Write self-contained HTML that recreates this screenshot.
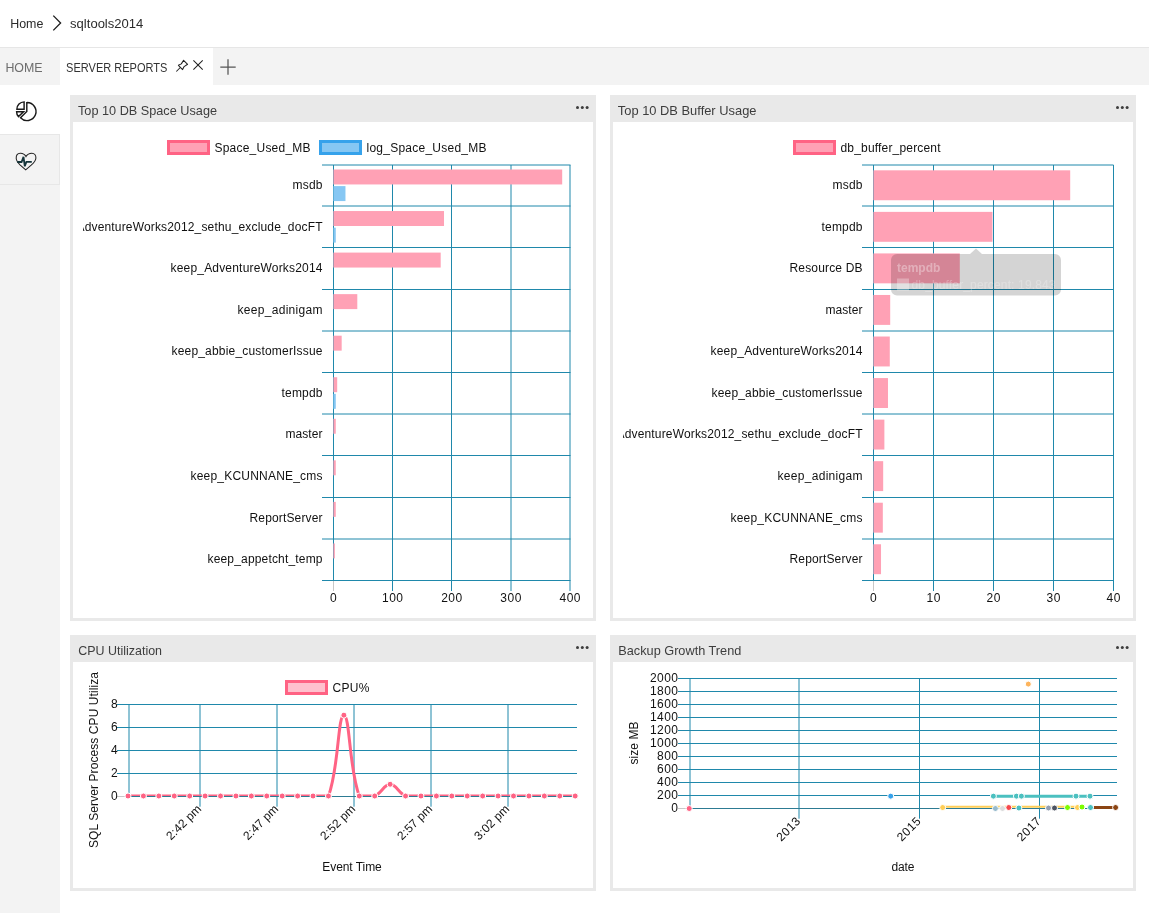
<!DOCTYPE html>
<html><head><meta charset="utf-8"><style>
html,body{margin:0;padding:0;}
body{width:1149px;height:913px;overflow:hidden;position:relative;background:#fff;font-family:"Liberation Sans", sans-serif;color:#333;}
.abs{position:absolute;}
#tabs{left:0;top:47px;width:1149px;height:38px;background:#f3f3f3;border-top:1px solid #e6e6e6;box-sizing:border-box;}
#side{left:0;top:85px;width:60px;height:828px;background:#f3f3f3;}
.wid{position:absolute;background:#e9e9e9;}
.wid .body{position:absolute;left:3px;right:3px;top:27px;bottom:3px;background:#fff;}
svg text{font-family:"Liberation Sans", sans-serif;}
svg{will-change:transform;}
</style></head><body>
<svg class="abs" style="left:0;top:0" width="300" height="47">
  <text x="10.2" y="28.3" font-size="13.4" fill="#2b2b2b" textLength="33.2" lengthAdjust="spacingAndGlyphs">Home</text>
  <path d="M53.3,15.6 L60.6,23 L53.3,30.4" fill="none" stroke="#1e1e1e" stroke-width="1.3"/>
  <text x="70.1" y="28.3" font-size="13.4" fill="#2b2b2b" textLength="73.2" lengthAdjust="spacingAndGlyphs">sqltools2014</text>
</svg>
<div id="tabs" class="abs"></div>
<div class="abs" style="left:60px;top:47px;width:153px;height:38px;background:#fff;border-top:1px solid #e6e6e6;box-sizing:border-box"></div>
<svg class="abs" style="left:0;top:47px" width="260" height="38">
  <text x="5.4" y="25.2" font-size="12.4" fill="#6d6d6d" textLength="37.2" lengthAdjust="spacingAndGlyphs">HOME</text>
  <text x="66.1" y="25.2" font-size="12.2" fill="#333" textLength="101.3" lengthAdjust="spacingAndGlyphs">SERVER REPORTS</text>
  <g fill="none" stroke="#222" stroke-width="1.05" stroke-linejoin="round">
   <path d="M178.4,18.3 L181.3,16.9 L183.6,13.3 L187.6,17.3 L184.1,19.6 L182.6,22.6 Z"/>
   <path d="M176.3,24.5 L180.3,20.5"/>
   <path d="M193.4,13.4 L202.7,22.7 M202.7,13.4 L193.4,22.7"/>
  </g>
  <path d="M228,12.3 V27.7 M220.3,20 H235.7" stroke="#555" stroke-width="1.25" fill="none"/>
</svg>
<div id="side" class="abs">
  <div class="abs" style="left:0;top:0;width:60px;height:49px;background:#fff"></div>
  <div class="abs" style="left:0;top:49px;width:60px;height:51px;border:1px solid #e7e7e7;border-left:none;box-sizing:border-box"></div>
</div>
<svg class="abs" style="left:0;top:0" width="60" height="200">
  <g fill="none" stroke="#1a1a1a" stroke-width="1.45" stroke-linejoin="miter">
    <path d="M26.8,102.6 V111.5 L20.5,117.8 A9,9 0 1 0 26.8,102.6 Z"/>
    <path d="M24.1,101.9 V109.3 H16.9 A7.3,7.3 0 0 1 24.1,101.9 Z"/>
    <path d="M16.6,111.7 H23.6 L18.4,116.6 A7.5,7.5 0 0 1 16.6,111.7 Z"/>
  </g>
  <path d="M26,156.6 C24.6,154 22.3,153.1 20.2,153.2 C17.6,153.3 16.1,155.4 16.2,158.2 C16.3,160.8 18,162.8 20,164.8 L25.7,169.8 L31.2,165.2 C33.6,163.1 35.8,160.9 35.9,158 C36,155.1 34.4,153.2 31.9,153.2 C29.8,153.2 27.4,154 26,156.6 Z" fill="none" stroke="#222" stroke-width="1.05"/>
  <path d="M17.2,162 H21.6 L23.5,156.8 L24.8,166.3 L26.4,161.9 H31.8" fill="none" stroke="#15343a" stroke-width="1.8" stroke-linejoin="miter"/>
</svg>
<div class="wid" style="left:70px;top:95px;width:526px;height:526px"><div class="body"></div></div>
<div class="wid" style="left:610px;top:95px;width:526px;height:526px"><div class="body"></div></div>
<div class="wid" style="left:70px;top:635px;width:526px;height:256px"><div class="body"></div></div>
<div class="wid" style="left:610px;top:635px;width:526px;height:256px"><div class="body"></div></div>
<svg class="abs" style="left:0;top:0" width="1149" height="913">
 <g fill="#3d3d3d">
  <text x="78" y="114.8" font-size="12.6" textLength="139" lengthAdjust="spacingAndGlyphs">Top 10 DB Space Usage</text>
  <text x="617.8" y="114.8" font-size="12.6" textLength="138.7" lengthAdjust="spacingAndGlyphs">Top 10 DB Buffer Usage</text>
  <text x="78.3" y="654.8" font-size="12.6" textLength="83.7" lengthAdjust="spacingAndGlyphs">CPU Utilization</text>
  <text x="618.3" y="654.8" font-size="12.6" textLength="123" lengthAdjust="spacingAndGlyphs">Backup Growth Trend</text>
  <circle cx="577.5" cy="107.5" r="1.5"/><circle cx="582.3" cy="107.5" r="1.5"/><circle cx="587.1" cy="107.5" r="1.5"/>
  <circle cx="1117.5" cy="107.5" r="1.5"/><circle cx="1122.3" cy="107.5" r="1.5"/><circle cx="1127.1" cy="107.5" r="1.5"/>
  <circle cx="577.5" cy="647.5" r="1.5"/><circle cx="582.3" cy="647.5" r="1.5"/><circle cx="587.1" cy="647.5" r="1.5"/>
  <circle cx="1117.5" cy="647.5" r="1.5"/><circle cx="1122.3" cy="647.5" r="1.5"/><circle cx="1127.1" cy="647.5" r="1.5"/>
 </g>
<clipPath id="c1"><rect x="83" y="120" width="600" height="500"/></clipPath>
<g clip-path="url(#c1)">
<line x1="322" y1="165.0" x2="570.5" y2="165.0" stroke="#1f88ab" stroke-width="1"/>
<line x1="322" y1="206.0" x2="570.5" y2="206.0" stroke="#1f88ab" stroke-width="1"/>
<line x1="322" y1="247.5" x2="570.5" y2="247.5" stroke="#1f88ab" stroke-width="1"/>
<line x1="322" y1="289.5" x2="570.5" y2="289.5" stroke="#1f88ab" stroke-width="1"/>
<line x1="322" y1="331.0" x2="570.5" y2="331.0" stroke="#1f88ab" stroke-width="1"/>
<line x1="322" y1="372.5" x2="570.5" y2="372.5" stroke="#1f88ab" stroke-width="1"/>
<line x1="322" y1="414.0" x2="570.5" y2="414.0" stroke="#1f88ab" stroke-width="1"/>
<line x1="322" y1="455.5" x2="570.5" y2="455.5" stroke="#1f88ab" stroke-width="1"/>
<line x1="322" y1="497.5" x2="570.5" y2="497.5" stroke="#1f88ab" stroke-width="1"/>
<line x1="322" y1="539.0" x2="570.5" y2="539.0" stroke="#1f88ab" stroke-width="1"/>
<line x1="322" y1="580.5" x2="570.5" y2="580.5" stroke="#1f88ab" stroke-width="1"/>
<line x1="333.5" y1="165" x2="333.5" y2="580.5" stroke="#1f88ab" stroke-width="1"/>
<line x1="333.5" y1="581" x2="333.5" y2="591" stroke="#c8c8c8" stroke-width="1"/>
<text x="333.40" y="602.00" font-size="12" fill="#111" text-anchor="middle" textLength="7" lengthAdjust="spacing" >0</text>
<line x1="392.5" y1="165" x2="392.5" y2="591" stroke="#1f88ab" stroke-width="1"/>
<text x="392.55" y="602.00" font-size="12" fill="#111" text-anchor="middle" textLength="21" lengthAdjust="spacing" >100</text>
<line x1="451.5" y1="165" x2="451.5" y2="591" stroke="#1f88ab" stroke-width="1"/>
<text x="451.70" y="602.00" font-size="12" fill="#111" text-anchor="middle" textLength="21" lengthAdjust="spacing" >200</text>
<line x1="511.0" y1="165" x2="511.0" y2="591" stroke="#1f88ab" stroke-width="1"/>
<text x="510.85" y="602.00" font-size="12" fill="#111" text-anchor="middle" textLength="21" lengthAdjust="spacing" >300</text>
<line x1="570.0" y1="165" x2="570.0" y2="591" stroke="#1f88ab" stroke-width="1"/>
<text x="570.00" y="602.00" font-size="12" fill="#111" text-anchor="middle" textLength="21" lengthAdjust="spacing" >400</text>
<rect x="333.40" y="169.49" width="228.79" height="14.96" fill="#ffa1b5"/>
<rect x="333.40" y="186.11" width="12.07" height="14.96" fill="#86c7f3"/>
<text x="322.50" y="189.18" font-size="12" fill="#111" text-anchor="end" textLength="30" lengthAdjust="spacing" >msdb</text>
<rect x="333.40" y="211.04" width="110.61" height="14.96" fill="#ffa1b5"/>
<rect x="333.40" y="227.66" width="2.37" height="14.96" fill="#86c7f3"/>
<text x="322.50" y="230.72" font-size="12" fill="#111" text-anchor="end" textLength="246" lengthAdjust="spacing" >AdventureWorks2012_sethu_exclude_docFT</text>
<rect x="333.40" y="252.59" width="107.30" height="14.96" fill="#ffa1b5"/>
<text x="322.50" y="272.27" font-size="12" fill="#111" text-anchor="end" textLength="152" lengthAdjust="spacing" >keep_AdventureWorks2014</text>
<rect x="333.40" y="294.14" width="23.90" height="14.96" fill="#ffa1b5"/>
<text x="322.50" y="313.82" font-size="12" fill="#111" text-anchor="end" textLength="85" lengthAdjust="spacing" >keep_adinigam</text>
<rect x="333.40" y="335.69" width="8.28" height="14.96" fill="#ffa1b5"/>
<text x="322.50" y="355.38" font-size="12" fill="#111" text-anchor="end" textLength="151" lengthAdjust="spacing" >keep_abbie_customerIssue</text>
<rect x="333.40" y="377.24" width="3.79" height="14.96" fill="#ffa1b5"/>
<rect x="333.40" y="393.86" width="2.37" height="14.96" fill="#86c7f3"/>
<text x="322.50" y="396.92" font-size="12" fill="#111" text-anchor="end" textLength="41" lengthAdjust="spacing" >tempdb</text>
<rect x="333.40" y="418.79" width="2.37" height="14.96" fill="#ffa1b5"/>
<text x="322.50" y="438.47" font-size="12" fill="#111" text-anchor="end" textLength="37" lengthAdjust="spacing" >master</text>
<rect x="333.40" y="460.34" width="2.37" height="14.96" fill="#ffa1b5"/>
<text x="322.50" y="480.02" font-size="12" fill="#111" text-anchor="end" textLength="132" lengthAdjust="spacing" >keep_KCUNNANE_cms</text>
<rect x="333.40" y="501.89" width="2.37" height="14.96" fill="#ffa1b5"/>
<text x="322.50" y="521.57" font-size="12" fill="#111" text-anchor="end" textLength="73" lengthAdjust="spacing" >ReportServer</text>
<rect x="333.40" y="543.44" width="1.48" height="14.96" fill="#ffa1b5"/>
<text x="322.50" y="563.12" font-size="12" fill="#111" text-anchor="end" textLength="115" lengthAdjust="spacing" >keep_appetcht_temp</text>
</g>
<rect x="168.50" y="141.50" width="40.00" height="12.00" fill="#ffa1b5" stroke="rgb(255,99,132)" stroke-width="3"/>
<text x="214.50" y="151.50" font-size="12" fill="#111" text-anchor="start" textLength="96" lengthAdjust="spacing" >Space_Used_MB</text>
<rect x="320.50" y="141.50" width="40.00" height="12.00" fill="#86c7f3" stroke="rgb(54,162,235)" stroke-width="3"/>
<text x="366.50" y="151.50" font-size="12" fill="#111" text-anchor="start" textLength="120" lengthAdjust="spacing" >log_Space_Used_MB</text>
<clipPath id="c2"><rect x="623" y="120" width="600" height="500"/></clipPath>
<g clip-path="url(#c2)">
<line x1="862" y1="165.0" x2="1113.5" y2="165.0" stroke="#1f88ab" stroke-width="1"/>
<line x1="862" y1="206.0" x2="1113.5" y2="206.0" stroke="#1f88ab" stroke-width="1"/>
<line x1="862" y1="247.5" x2="1113.5" y2="247.5" stroke="#1f88ab" stroke-width="1"/>
<line x1="862" y1="289.5" x2="1113.5" y2="289.5" stroke="#1f88ab" stroke-width="1"/>
<line x1="862" y1="331.0" x2="1113.5" y2="331.0" stroke="#1f88ab" stroke-width="1"/>
<line x1="862" y1="372.5" x2="1113.5" y2="372.5" stroke="#1f88ab" stroke-width="1"/>
<line x1="862" y1="414.0" x2="1113.5" y2="414.0" stroke="#1f88ab" stroke-width="1"/>
<line x1="862" y1="455.5" x2="1113.5" y2="455.5" stroke="#1f88ab" stroke-width="1"/>
<line x1="862" y1="497.5" x2="1113.5" y2="497.5" stroke="#1f88ab" stroke-width="1"/>
<line x1="862" y1="539.0" x2="1113.5" y2="539.0" stroke="#1f88ab" stroke-width="1"/>
<line x1="862" y1="580.5" x2="1113.5" y2="580.5" stroke="#1f88ab" stroke-width="1"/>
<line x1="873.5" y1="165" x2="873.5" y2="580.5" stroke="#1f88ab" stroke-width="1"/>
<line x1="873.5" y1="581" x2="873.5" y2="591" stroke="#c8c8c8" stroke-width="1"/>
<text x="873.40" y="602.00" font-size="12" fill="#111" text-anchor="middle" textLength="7" lengthAdjust="spacing" >0</text>
<line x1="933.5" y1="165" x2="933.5" y2="591" stroke="#1f88ab" stroke-width="1"/>
<text x="933.40" y="602.00" font-size="12" fill="#111" text-anchor="middle" textLength="14" lengthAdjust="spacing" >10</text>
<line x1="993.5" y1="165" x2="993.5" y2="591" stroke="#1f88ab" stroke-width="1"/>
<text x="993.40" y="602.00" font-size="12" fill="#111" text-anchor="middle" textLength="14" lengthAdjust="spacing" >20</text>
<line x1="1053.5" y1="165" x2="1053.5" y2="591" stroke="#1f88ab" stroke-width="1"/>
<text x="1053.40" y="602.00" font-size="12" fill="#111" text-anchor="middle" textLength="14" lengthAdjust="spacing" >30</text>
<line x1="1113.5" y1="165" x2="1113.5" y2="591" stroke="#1f88ab" stroke-width="1"/>
<text x="1113.40" y="602.00" font-size="12" fill="#111" text-anchor="middle" textLength="14" lengthAdjust="spacing" >40</text>
<rect x="873.40" y="170.32" width="196.80" height="29.92" fill="#ffa1b5"/>
<text x="862.50" y="189.18" font-size="12" fill="#111" text-anchor="end" textLength="30" lengthAdjust="spacing" >msdb</text>
<rect x="873.40" y="211.87" width="119.06" height="29.92" fill="#ffa1b5"/>
<text x="862.50" y="230.72" font-size="12" fill="#111" text-anchor="end" textLength="41" lengthAdjust="spacing" >tempdb</text>
<rect x="873.40" y="253.42" width="86.40" height="29.92" fill="#ffa1b5"/>
<text x="862.50" y="272.27" font-size="12" fill="#111" text-anchor="end" textLength="73" lengthAdjust="spacing" >Resource DB</text>
<rect x="873.40" y="294.97" width="16.80" height="29.92" fill="#ffa1b5"/>
<text x="862.50" y="313.82" font-size="12" fill="#111" text-anchor="end" textLength="37" lengthAdjust="spacing" >master</text>
<rect x="873.40" y="336.52" width="16.38" height="29.92" fill="#ffa1b5"/>
<text x="862.50" y="355.38" font-size="12" fill="#111" text-anchor="end" textLength="152" lengthAdjust="spacing" >keep_AdventureWorks2014</text>
<rect x="873.40" y="378.07" width="14.58" height="29.92" fill="#ffa1b5"/>
<text x="862.50" y="396.92" font-size="12" fill="#111" text-anchor="end" textLength="151" lengthAdjust="spacing" >keep_abbie_customerIssue</text>
<rect x="873.40" y="419.62" width="10.98" height="29.92" fill="#ffa1b5"/>
<text x="862.50" y="438.47" font-size="12" fill="#111" text-anchor="end" textLength="246" lengthAdjust="spacing" >AdventureWorks2012_sethu_exclude_docFT</text>
<rect x="873.40" y="461.17" width="9.78" height="29.92" fill="#ffa1b5"/>
<text x="862.50" y="480.02" font-size="12" fill="#111" text-anchor="end" textLength="85" lengthAdjust="spacing" >keep_adinigam</text>
<rect x="873.40" y="502.72" width="9.42" height="29.92" fill="#ffa1b5"/>
<text x="862.50" y="521.57" font-size="12" fill="#111" text-anchor="end" textLength="132" lengthAdjust="spacing" >keep_KCUNNANE_cms</text>
<rect x="873.40" y="544.27" width="7.62" height="29.92" fill="#ffa1b5"/>
<text x="862.50" y="563.12" font-size="12" fill="#111" text-anchor="end" textLength="73" lengthAdjust="spacing" >ReportServer</text>
</g>
<rect x="794.50" y="141.50" width="40.00" height="12.00" fill="#ffa1b5" stroke="rgb(255,99,132)" stroke-width="3"/>
<text x="840.50" y="151.50" font-size="12" fill="#111" text-anchor="start" textLength="100" lengthAdjust="spacing" >db_buffer_percent</text>
<g>
<path d="M897,254 H970 L976,248.5 L982,254 H1055 a6,6 0 0 1 6,6 V289.5 a6,6 0 0 1 -6,6 H897 a6,6 0 0 1 -6,-6 V260 a6,6 0 0 1 6,-6 Z" fill="rgba(0,0,0,0.17)"/>
<text x="897.00" y="271.50" font-size="12" fill="rgba(255,255,255,0.35)" text-anchor="start" font-weight="bold" >tempdb</text>
<rect x="897.00" y="278.50" width="12.00" height="12.00" fill="rgba(255,255,255,0.3)"/>
<text x="911.50" y="289.00" font-size="12" fill="rgba(255,255,255,0.25)" text-anchor="start" textLength="144" lengthAdjust="spacing" >db_buffer_percent: 19.843</text>
</g>
<line x1="117" y1="704.5" x2="577" y2="704.5" stroke="#1f88ab" stroke-width="1"/>
<text x="117.60" y="708.20" font-size="12" fill="#111" text-anchor="end" textLength="7" lengthAdjust="spacing" >8</text>
<line x1="117" y1="727.5" x2="577" y2="727.5" stroke="#1f88ab" stroke-width="1"/>
<text x="117.60" y="731.20" font-size="12" fill="#111" text-anchor="end" textLength="7" lengthAdjust="spacing" >6</text>
<line x1="117" y1="750.5" x2="577" y2="750.5" stroke="#1f88ab" stroke-width="1"/>
<text x="117.60" y="754.20" font-size="12" fill="#111" text-anchor="end" textLength="7" lengthAdjust="spacing" >4</text>
<line x1="117" y1="773.5" x2="577" y2="773.5" stroke="#1f88ab" stroke-width="1"/>
<text x="117.60" y="777.20" font-size="12" fill="#111" text-anchor="end" textLength="7" lengthAdjust="spacing" >2</text>
<line x1="117" y1="796.5" x2="128" y2="796.5" stroke="#c8c8c8" stroke-width="1"/>
<text x="117.60" y="800.20" font-size="12" fill="#111" text-anchor="end" textLength="7" lengthAdjust="spacing" >0</text>
<line x1="129" y1="704.0" x2="129" y2="796.0" stroke="#1f88ab" stroke-width="1"/>
<line x1="200.0" y1="704.0" x2="200.0" y2="806.7" stroke="#1f88ab" stroke-width="1"/>
<text transform="translate(199.2,806.8) rotate(-45)" font-size="12" fill="#111" text-anchor="end" dominant-baseline="central" textLength="44" lengthAdjust="spacing">2:42 pm</text>
<line x1="277.0" y1="704.0" x2="277.0" y2="806.7" stroke="#1f88ab" stroke-width="1"/>
<text transform="translate(276.2,806.8) rotate(-45)" font-size="12" fill="#111" text-anchor="end" dominant-baseline="central" textLength="44" lengthAdjust="spacing">2:47 pm</text>
<line x1="354.0" y1="704.0" x2="354.0" y2="806.7" stroke="#1f88ab" stroke-width="1"/>
<text transform="translate(353.2,806.8) rotate(-45)" font-size="12" fill="#111" text-anchor="end" dominant-baseline="central" textLength="44" lengthAdjust="spacing">2:52 pm</text>
<line x1="431.0" y1="704.0" x2="431.0" y2="806.7" stroke="#1f88ab" stroke-width="1"/>
<text transform="translate(430.2,806.8) rotate(-45)" font-size="12" fill="#111" text-anchor="end" dominant-baseline="central" textLength="44" lengthAdjust="spacing">2:57 pm</text>
<line x1="508.0" y1="704.0" x2="508.0" y2="806.7" stroke="#1f88ab" stroke-width="1"/>
<text transform="translate(507.2,806.8) rotate(-45)" font-size="12" fill="#111" text-anchor="end" dominant-baseline="central" textLength="44" lengthAdjust="spacing">3:02 pm</text>
<line x1="128" y1="796.5" x2="577" y2="796.5" stroke="#2d7b93" stroke-width="1"/>
<clipPath id="c3"><rect x="100" y="600" width="500" height="196"/></clipPath>
<path d="M128.00,796.00 C134.17,796.00 137.25,796.00 143.42,796.00 C149.59,796.00 152.67,796.00 158.84,796.00 C165.01,796.00 168.09,796.00 174.26,796.00 C180.43,796.00 183.51,796.00 189.68,796.00 C195.85,796.00 198.93,796.00 205.10,796.00 C211.27,796.00 214.35,796.00 220.52,796.00 C226.69,796.00 229.77,796.00 235.94,796.00 C242.11,796.00 245.19,796.00 251.36,796.00 C257.53,796.00 260.61,796.00 266.78,796.00 C272.95,796.00 276.03,796.00 282.20,796.00 C288.37,796.00 291.45,796.00 297.62,796.00 C303.79,796.00 306.87,796.00 313.04,796.00 C319.21,796.00 326.51,796.00 328.46,796.00 C338.85,768.76 337.71,715.15 343.88,715.15 C350.05,715.15 348.91,768.76 359.30,796.00 C361.25,796.00 369.25,796.00 374.72,796.00 C381.59,793.39 383.97,784.27 390.14,784.27 C396.31,784.27 398.69,793.39 405.56,796.00 C411.03,796.00 414.81,796.00 420.98,796.00 C427.15,796.00 430.23,796.00 436.40,796.00 C442.57,796.00 445.65,796.00 451.82,796.00 C457.99,796.00 461.07,796.00 467.24,796.00 C473.41,796.00 476.49,796.00 482.66,796.00 C488.83,796.00 491.91,796.00 498.08,796.00 C504.25,796.00 507.33,796.00 513.50,796.00 C519.67,796.00 522.75,796.00 528.92,796.00 C535.09,796.00 538.17,796.00 544.34,796.00 C550.51,796.00 553.59,796.00 559.76,796.00 C565.93,796.00 569.01,796.00 575.18,796.00" fill="none" stroke="rgb(255,99,132)" stroke-width="3" clip-path="url(#c3)"/>
<circle cx="128.00" cy="796.00" r="3" fill="rgb(255,99,132)" stroke="#fff" stroke-width="1"/>
<circle cx="143.42" cy="796.00" r="3" fill="rgb(255,99,132)" stroke="#fff" stroke-width="1"/>
<circle cx="158.84" cy="796.00" r="3" fill="rgb(255,99,132)" stroke="#fff" stroke-width="1"/>
<circle cx="174.26" cy="796.00" r="3" fill="rgb(255,99,132)" stroke="#fff" stroke-width="1"/>
<circle cx="189.68" cy="796.00" r="3" fill="rgb(255,99,132)" stroke="#fff" stroke-width="1"/>
<circle cx="205.10" cy="796.00" r="3" fill="rgb(255,99,132)" stroke="#fff" stroke-width="1"/>
<circle cx="220.52" cy="796.00" r="3" fill="rgb(255,99,132)" stroke="#fff" stroke-width="1"/>
<circle cx="235.94" cy="796.00" r="3" fill="rgb(255,99,132)" stroke="#fff" stroke-width="1"/>
<circle cx="251.36" cy="796.00" r="3" fill="rgb(255,99,132)" stroke="#fff" stroke-width="1"/>
<circle cx="266.78" cy="796.00" r="3" fill="rgb(255,99,132)" stroke="#fff" stroke-width="1"/>
<circle cx="282.20" cy="796.00" r="3" fill="rgb(255,99,132)" stroke="#fff" stroke-width="1"/>
<circle cx="297.62" cy="796.00" r="3" fill="rgb(255,99,132)" stroke="#fff" stroke-width="1"/>
<circle cx="313.04" cy="796.00" r="3" fill="rgb(255,99,132)" stroke="#fff" stroke-width="1"/>
<circle cx="328.46" cy="796.00" r="3" fill="rgb(255,99,132)" stroke="#fff" stroke-width="1"/>
<circle cx="343.88" cy="715.15" r="3" fill="rgb(255,99,132)" stroke="#fff" stroke-width="1"/>
<circle cx="359.30" cy="796.00" r="3" fill="rgb(255,99,132)" stroke="#fff" stroke-width="1"/>
<circle cx="374.72" cy="796.00" r="3" fill="rgb(255,99,132)" stroke="#fff" stroke-width="1"/>
<circle cx="390.14" cy="784.27" r="3" fill="rgb(255,99,132)" stroke="#fff" stroke-width="1"/>
<circle cx="405.56" cy="796.00" r="3" fill="rgb(255,99,132)" stroke="#fff" stroke-width="1"/>
<circle cx="420.98" cy="796.00" r="3" fill="rgb(255,99,132)" stroke="#fff" stroke-width="1"/>
<circle cx="436.40" cy="796.00" r="3" fill="rgb(255,99,132)" stroke="#fff" stroke-width="1"/>
<circle cx="451.82" cy="796.00" r="3" fill="rgb(255,99,132)" stroke="#fff" stroke-width="1"/>
<circle cx="467.24" cy="796.00" r="3" fill="rgb(255,99,132)" stroke="#fff" stroke-width="1"/>
<circle cx="482.66" cy="796.00" r="3" fill="rgb(255,99,132)" stroke="#fff" stroke-width="1"/>
<circle cx="498.08" cy="796.00" r="3" fill="rgb(255,99,132)" stroke="#fff" stroke-width="1"/>
<circle cx="513.50" cy="796.00" r="3" fill="rgb(255,99,132)" stroke="#fff" stroke-width="1"/>
<circle cx="528.92" cy="796.00" r="3" fill="rgb(255,99,132)" stroke="#fff" stroke-width="1"/>
<circle cx="544.34" cy="796.00" r="3" fill="rgb(255,99,132)" stroke="#fff" stroke-width="1"/>
<circle cx="559.76" cy="796.00" r="3" fill="rgb(255,99,132)" stroke="#fff" stroke-width="1"/>
<circle cx="575.18" cy="796.00" r="3" fill="rgb(255,99,132)" stroke="#fff" stroke-width="1"/>
<rect x="286.50" y="681.50" width="40.00" height="12.00" fill="#ffc1ce" stroke="rgb(255,99,132)" stroke-width="3"/>
<text x="332.50" y="691.50" font-size="12" fill="#111" text-anchor="start" textLength="37" lengthAdjust="spacing" >CPU%</text>
<text transform="translate(98,760) rotate(-90)" font-size="12" fill="#111" text-anchor="middle" textLength="176" lengthAdjust="spacing">SQL Server Process CPU Utiliza</text>
<text x="352.00" y="871.00" font-size="12" fill="#111" text-anchor="middle" textLength="59.5" lengthAdjust="spacing" >Event Time</text>
<line x1="678" y1="795.5" x2="1117" y2="795.5" stroke="#1f88ab" stroke-width="1"/>
<text x="678.00" y="798.80" font-size="12" fill="#111" text-anchor="end" textLength="21" lengthAdjust="spacing" >200</text>
<line x1="678" y1="782.5" x2="1117" y2="782.5" stroke="#1f88ab" stroke-width="1"/>
<text x="678.00" y="785.80" font-size="12" fill="#111" text-anchor="end" textLength="21" lengthAdjust="spacing" >400</text>
<line x1="678" y1="769.5" x2="1117" y2="769.5" stroke="#1f88ab" stroke-width="1"/>
<text x="678.00" y="772.80" font-size="12" fill="#111" text-anchor="end" textLength="21" lengthAdjust="spacing" >600</text>
<line x1="678" y1="756.5" x2="1117" y2="756.5" stroke="#1f88ab" stroke-width="1"/>
<text x="678.00" y="759.80" font-size="12" fill="#111" text-anchor="end" textLength="21" lengthAdjust="spacing" >800</text>
<line x1="678" y1="743.5" x2="1117" y2="743.5" stroke="#1f88ab" stroke-width="1"/>
<text x="678.00" y="746.80" font-size="12" fill="#111" text-anchor="end" textLength="28" lengthAdjust="spacing" >1000</text>
<line x1="678" y1="730.5" x2="1117" y2="730.5" stroke="#1f88ab" stroke-width="1"/>
<text x="678.00" y="733.80" font-size="12" fill="#111" text-anchor="end" textLength="28" lengthAdjust="spacing" >1200</text>
<line x1="678" y1="717.5" x2="1117" y2="717.5" stroke="#1f88ab" stroke-width="1"/>
<text x="678.00" y="720.80" font-size="12" fill="#111" text-anchor="end" textLength="28" lengthAdjust="spacing" >1400</text>
<line x1="678" y1="704.5" x2="1117" y2="704.5" stroke="#1f88ab" stroke-width="1"/>
<text x="678.00" y="707.80" font-size="12" fill="#111" text-anchor="end" textLength="28" lengthAdjust="spacing" >1600</text>
<line x1="678" y1="691.5" x2="1117" y2="691.5" stroke="#1f88ab" stroke-width="1"/>
<text x="678.00" y="694.80" font-size="12" fill="#111" text-anchor="end" textLength="28" lengthAdjust="spacing" >1800</text>
<line x1="678" y1="678.5" x2="1117" y2="678.5" stroke="#1f88ab" stroke-width="1"/>
<text x="678.00" y="681.80" font-size="12" fill="#111" text-anchor="end" textLength="28" lengthAdjust="spacing" >2000</text>
<line x1="678" y1="808.5" x2="689" y2="808.5" stroke="#c8c8c8" stroke-width="1"/>
<text x="678.00" y="811.80" font-size="12" fill="#111" text-anchor="end" textLength="7" lengthAdjust="spacing" >0</text>
<line x1="690" y1="678.5" x2="690" y2="808.5" stroke="#1f88ab" stroke-width="1"/>
<line x1="799.0" y1="678.5" x2="799.0" y2="818.7" stroke="#1f88ab" stroke-width="1"/>
<text transform="translate(798.2,819.3) rotate(-45)" font-size="12" fill="#111" text-anchor="end" dominant-baseline="central" textLength="28" lengthAdjust="spacing">2013</text>
<line x1="919.5" y1="678.5" x2="919.5" y2="818.7" stroke="#1f88ab" stroke-width="1"/>
<text transform="translate(918.7,819.3) rotate(-45)" font-size="12" fill="#111" text-anchor="end" dominant-baseline="central" textLength="28" lengthAdjust="spacing">2015</text>
<line x1="1039.5" y1="678.5" x2="1039.5" y2="818.7" stroke="#1f88ab" stroke-width="1"/>
<text transform="translate(1038.7,819.3) rotate(-45)" font-size="12" fill="#111" text-anchor="end" dominant-baseline="central" textLength="28" lengthAdjust="spacing">2017</text>
<line x1="689" y1="808.5" x2="1117" y2="808.5" stroke="#2d7b93" stroke-width="1"/>
<text transform="translate(638,743) rotate(-90)" font-size="12" fill="#111" text-anchor="middle" textLength="43" lengthAdjust="spacing">size MB</text>
<text x="903.00" y="871.00" font-size="12" fill="#111" text-anchor="middle" textLength="23" lengthAdjust="spacing" >date</text>
<line x1="993" y1="796.15" x2="1090" y2="796.15" stroke="rgb(75,192,192)" stroke-width="3"/>
<line x1="942" y1="806.8" x2="1077" y2="806.8" stroke="rgb(255,206,86)" stroke-width="2"/>
<line x1="1094" y1="807.5" x2="1116" y2="807.5" stroke="rgb(139,69,19)" stroke-width="3"/>
<circle cx="689.2" cy="808.50" r="3" fill="rgb(255,99,132)" stroke="#fff" stroke-width="1"/>
<circle cx="890.7" cy="796.15" r="3" fill="rgb(54,162,235)" stroke="#fff" stroke-width="1"/>
<circle cx="1028.3" cy="684.10" r="3" fill="rgb(253,180,92)" stroke="#fff" stroke-width="1"/>
<circle cx="942.7" cy="807.50" r="3" fill="rgb(255,206,86)" stroke="#fff" stroke-width="1"/>
<circle cx="993.4" cy="796.15" r="3" fill="rgb(75,192,192)" stroke="#fff" stroke-width="1"/>
<circle cx="1016.4" cy="796.15" r="3" fill="rgb(75,192,192)" stroke="#fff" stroke-width="1"/>
<circle cx="1021.4" cy="796.15" r="3" fill="rgb(75,192,192)" stroke="#fff" stroke-width="1"/>
<circle cx="1076" cy="796.15" r="3" fill="rgb(75,192,192)" stroke="#fff" stroke-width="1"/>
<circle cx="1090" cy="796.15" r="3" fill="rgb(75,192,192)" stroke="#fff" stroke-width="1"/>
<circle cx="995.4" cy="808.50" r="3" fill="rgb(151,187,205)" stroke="#fff" stroke-width="1"/>
<circle cx="1002.5" cy="808.50" r="3" fill="rgb(220,220,220)" stroke="#fff" stroke-width="1"/>
<circle cx="1008.8" cy="807.50" r="3" fill="rgb(247,70,74)" stroke="#fff" stroke-width="1"/>
<circle cx="1018.9" cy="808.00" r="3" fill="rgb(75,192,192)" stroke="#fff" stroke-width="1"/>
<circle cx="1048.5" cy="808.00" r="3" fill="rgb(148,159,177)" stroke="#fff" stroke-width="1"/>
<circle cx="1054.5" cy="808.00" r="3" fill="rgb(77,83,96)" stroke="#fff" stroke-width="1"/>
<circle cx="1067.5" cy="807.50" r="3" fill="rgb(124,252,0)" stroke="#fff" stroke-width="1"/>
<circle cx="1077.5" cy="807.50" r="3" fill="rgb(255,206,86)" stroke="#fff" stroke-width="1"/>
<circle cx="1082" cy="807.00" r="3" fill="rgb(124,252,0)" stroke="#fff" stroke-width="1"/>
<circle cx="1090.5" cy="807.50" r="3" fill="rgb(75,192,192)" stroke="#fff" stroke-width="1"/>
<circle cx="1115.6" cy="807.50" r="3" fill="rgb(139,69,19)" stroke="#fff" stroke-width="1"/>
</svg>
</body></html>
